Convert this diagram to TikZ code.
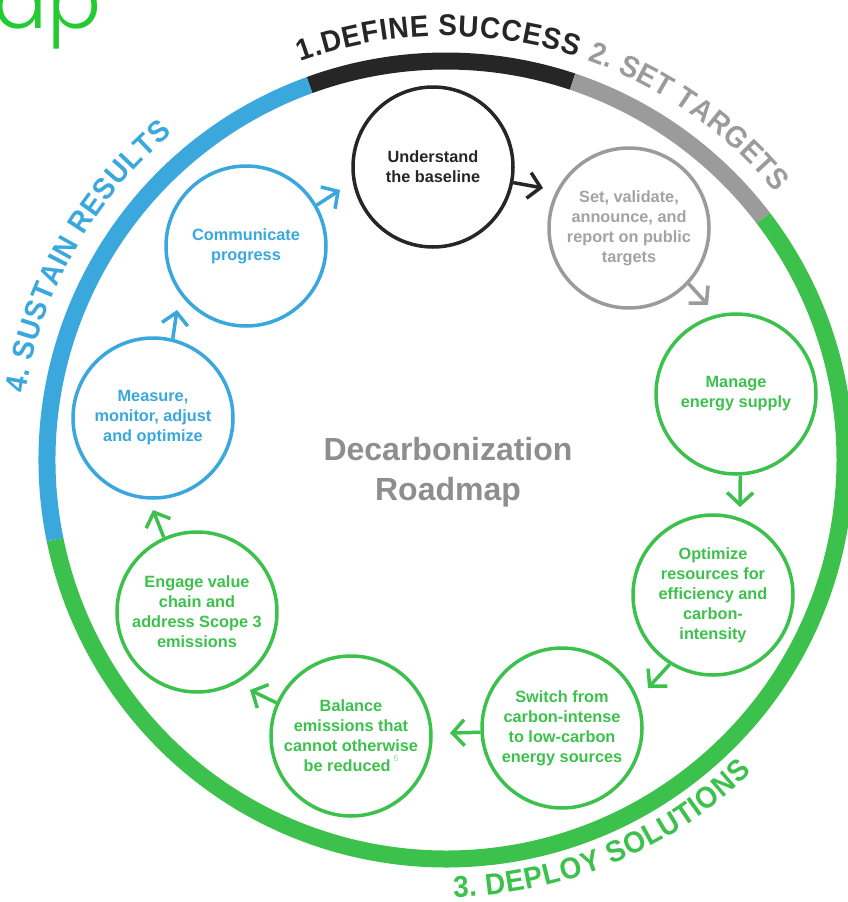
\documentclass[tikz,border=0pt]{standalone}
\usepackage{fontspec}
\setmainfont{Liberation Sans}
\newfontfamily\ringfam[FakeStretch=0.93]{Liberation Sans}
\IfFontExistsTF{Poppins Light}{\newfontfamily\titlefam{Poppins Light}}{\newfontfamily\titlefam{Poppins}}
\usetikzlibrary{decorations.text,arrows.meta}
\definecolor{cblack}{HTML}{262626}
\definecolor{cgray}{HTML}{9B9B9B}
\definecolor{cgrayt}{HTML}{A3A3A3}
\definecolor{cgreen}{HTML}{3CC24C}
\definecolor{cblue}{HTML}{3AA7DD}
\definecolor{ccenter}{HTML}{8E8E8E}
\definecolor{ctitle}{HTML}{22CB30}
\definecolor{cnote}{HTML}{9FD9A5}
\newcommand\rlab{\ringfam\bfseries\fontsize{30}{30}\selectfont}
\begin{document}
\begin{tikzpicture}[x=1pt,y=1pt,
  stage/.style={circle, minimum size=160pt, inner sep=0pt, line width=3.5pt, fill=white, align=center, font=\bfseries\fontsize{16.3}{20}\selectfont},
  flow/.style={line width=3.5pt, -{Straight Barb[length=12pt,width=26pt]}},
  ring/.style={line width=17pt},
  blackstage/.style={stage, draw=cblack, text=cblack},
  graystage/.style={stage, draw=cgray, text=cgrayt},
  greenstage/.style={stage, draw=cgreen, text=cgreen},
  bluestage/.style={stage, draw=cblue, text=cblue}
]
\useasboundingbox (0,0) rectangle (848,-902);
\fill[white] (0,0) rectangle (848,-902);
\coordinate (ctr) at (446,-460);

% outer ring
\draw[ring, cblack] ([shift={(110:399)}]ctr) arc[start angle=110, end angle=71.5, radius=399];
\draw[ring, cgray] ([shift={(71.5:399)}]ctr) arc[start angle=71.5, end angle=37.3, radius=399];
\draw[ring, cgreen] ([shift={(37.3:399)}]ctr) arc[start angle=37.3, end angle=-168.5, radius=399];
\draw[ring, cblue] ([shift={(191.5:399)}]ctr) arc[start angle=191.5, end angle=110, radius=399];

% ring labels
\path[decorate, decoration={text effects along path, text={1.DEFINE SUCCESS},
  text effects/.cd, text along path, fit text to path, characters={text=cblack, font=\rlab}}]
  ([shift={(110:424)}]ctr) arc[start angle=110, end angle=72, radius=424];
\path[decorate, decoration={text effects along path, text={2. SET TARGETS},
  text effects/.cd, text along path, fit text to path, characters={text=cgray, font=\rlab}}]
  ([shift={(70.5:424)}]ctr) arc[start angle=70.5, end angle=39, radius=424];
\path[decorate, decoration={text effects along path, text={3. DEPLOY SOLUTIONS},
  text effects/.cd, text along path, fit text to path, characters={text=cgreen, font=\rlab}}]
  ([shift={(-89:437)}]ctr) arc[start angle=-89, end angle=-45.5, radius=437];
\path[decorate, decoration={text effects along path, text={4. SUSTAIN RESULTS},
  text effects/.cd, text along path, fit text to path, characters={text=cblue, font=\rlab}}]
  ([shift={(171:426)}]ctr) arc[start angle=171, end angle=130, radius=426];

% title fragment
\node[anchor=base east, text=ctitle, font=\titlefam\fontsize{80}{80}\selectfont, inner sep=0pt] (ap) at (102,-28) {ap};

% centre label
\node[text=ccenter, font=\bfseries\fontsize{32}{40}\selectfont, align=center] (centre) at (448,-472) {Decarbonization\\Roadmap};

% stages
\node[blackstage] (n1) at (433,-167) {Understand\\the baseline};
\node[graystage] (n2) at (629,-228) {Set, validate,\\announce, and\\report on public\\targets};
\node[greenstage] (n3) at (736,-394) {Manage\\energy supply};
\node[greenstage] (n4) at (713,-595) {Optimize\\resources for\\efficiency and\\carbon-\\intensity};
\node[greenstage] (n5) at (562,-728) {Switch from\\carbon-intense\\to low-carbon\\energy sources};
\node[greenstage] (n6) at (351,-736) {Balance\\emissions that\\cannot otherwise\\be reduced\,\raisebox{1.2ex}{\mdseries\fontsize{9}{9}\selectfont\color{cnote}6}};
\node[greenstage] (n7) at (197,-612) {Engage value\\chain and\\address Scope 3\\emissions};
\node[bluestage] (n8) at (153,-418) {Measure,\\monitor, adjust\\and optimize};
\node[bluestage] (n9) at (246,-246) {Communicate\\progress};

% arrow tips
\coordinate (t1) at (543,-188);
\coordinate (t2) at (708,-305);
\coordinate (t3) at (740,-507);
\coordinate (t4) at (648,-688);
\coordinate (t5) at (450,-733);
\coordinate (t6) at (250,-690);
\coordinate (t7) at (153,-510);
\coordinate (t8) at (177,-310);
\coordinate (t9) at (340,-190);

\draw[flow, cblack] (n1.-11.4) -- (t1);
\draw[flow, cgray] (n2.-43) -- (t2);
\draw[flow, cgreen] (n3.-87) -- (t3);
\draw[flow, cgreen] (n4.-122.7) -- (t4);
\draw[flow, cgreen] (n5.183.6) -- (t5);
\draw[flow, cgreen] (n6.156.3) -- (t6);
\draw[flow, cgreen] (n7.114) -- (t7);
\draw[flow, cblue] (n8.76.6) -- (t8);
\draw[flow, cblue] (n9.30.7) -- (t9);
\end{tikzpicture}
\end{document}
